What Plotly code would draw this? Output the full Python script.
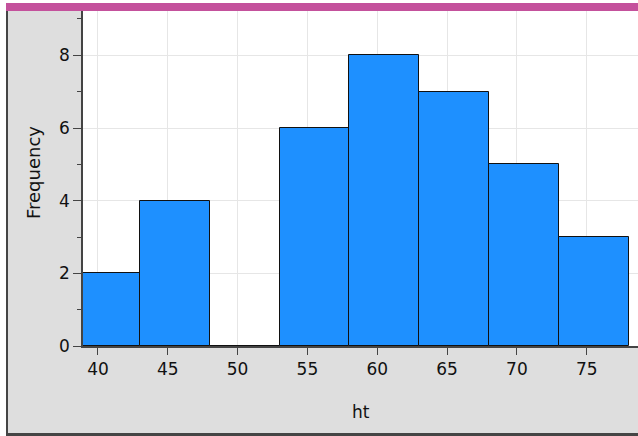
import plotly.graph_objects as go

# data
bin_starts = [38, 43, 48, 53, 58, 63, 68, 73]
bin_width = 5
counts = [2, 4, 0, 6, 8, 7, 5, 3]
x_ticks = [40, 45, 50, 55, 60, 65, 70, 75]
y_ticks = [0, 2, 4, 6, 8]

W, H = 638, 436
L, R, T, B = 83, 0, 11, 90
pw, ph = W - L - R, H - T - B

def px(p):
    return (p - L) / pw

def py(q):
    return (H - B - q) / ph

centers = [s + bin_width / 2 for s in bin_starts]

fig = go.Figure()
fig.add_trace(go.Bar(
    x=centers, y=counts, width=[bin_width] * len(counts),
    marker=dict(color="#1E90FF", line=dict(color="#111111", width=1)),
    hoverinfo="skip",
))

font = dict(family="DejaVu Sans", size=17, color="#111111")

fig.update_layout(
    width=W, height=H,
    margin=dict(l=L, r=R, t=T, b=B, pad=0),
    paper_bgcolor="white", plot_bgcolor="white",
    showlegend=False,
    bargap=0,
    font=font,
    xaxis=dict(
        range=[38.93, 78.67], tickmode="array", tickvals=x_ticks,
        ticks="outside", ticklen=7, tickcolor="#444444", tickwidth=1,
        showline=True, linecolor="#444444", linewidth=1.5,
        showgrid=True, gridcolor="#E6E6E6", gridwidth=1,
        zeroline=False, tickfont=font, fixedrange=True,
    ),
    yaxis=dict(
        range=[0, 9.22], tickmode="array", tickvals=y_ticks,
        ticks="outside", ticklen=8, tickcolor="#444444", tickwidth=1,
        minor=dict(tickmode="array", tickvals=[1, 3, 5, 7, 9], ticks="outside",
                   ticklen=4, tickcolor="#444444", showgrid=False),
        showline=True, linecolor="#444444", linewidth=1.5,
        showgrid=True, gridcolor="#E6E6E6", gridwidth=1,
        zeroline=False, tickfont=font, fixedrange=True,
    ),
    shapes=[
        dict(type="rect", xref="paper", yref="paper", layer="below",
             x0=px(6), x1=px(W), y0=py(H), y1=py(T),
             fillcolor="#DEDEDE", line=dict(width=0)),
        dict(type="rect", xref="paper", yref="paper", layer="below",
             x0=0, x1=1, y0=0, y1=1,
             fillcolor="white", line=dict(width=0)),
        dict(type="rect", xref="paper", yref="paper", layer="above",
             x0=px(6), x1=px(W), y0=py(11), y1=py(3),
             fillcolor="#C4519C", line=dict(width=0)),
        dict(type="rect", xref="paper", yref="paper", layer="above",
             x0=px(6), x1=px(8), y0=py(H), y1=py(11),
             fillcolor="#454545", line=dict(width=0)),
        dict(type="rect", xref="paper", yref="paper", layer="above",
             x0=px(6), x1=px(W), y0=py(H), y1=py(433),
             fillcolor="#454545", line=dict(width=0)),
    ],
    annotations=[
        dict(text="ht", xref="paper", yref="paper", x=0.5, y=py(412),
             showarrow=False, xanchor="center", yanchor="middle",
             font=dict(family="DejaVu Sans", size=17, color="#111111")),
        dict(text="Frequency", xref="paper", yref="paper", x=px(33), y=py(173),
             showarrow=False, xanchor="center", yanchor="middle", textangle=-90,
             font=dict(family="DejaVu Sans", size=18, color="#111111")),
    ],
)

fig.write_html("out.html", config={"displayModeBar": False},
               post_script="document.body.style.margin='0';document.body.style.padding='0';")
